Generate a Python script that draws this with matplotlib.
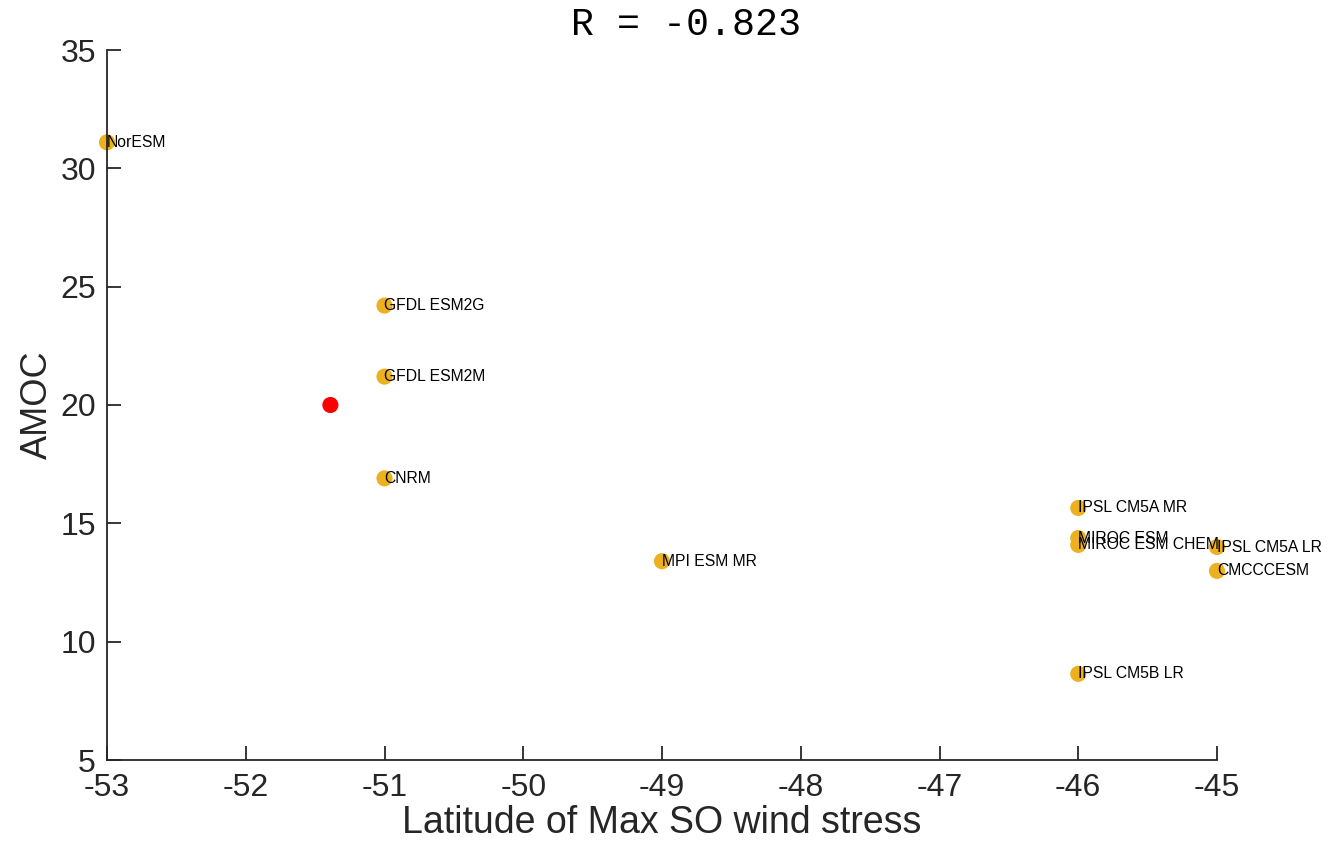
import matplotlib.pyplot as plt

plt.rcParams['axes.unicode_minus'] = False

# model results
models = ['NorESM', 'GFDL ESM2G', 'GFDL ESM2M', 'CNRM', 'MPI ESM MR',
          'IPSL CM5A MR', 'MIROC ESM', 'MIROC ESM CHEM', 'IPSL CM5A LR',
          'CMCCCESM', 'IPSL CM5B LR']
lat_max = [-53, -51, -51, -51, -49, -46, -46, -46, -45, -45, -46]
amoc = [31.1, 24.2, 21.2, 16.9, 13.4, 15.65, 14.38, 14.09, 14.0, 12.99, 8.64]

# observation estimate
obs_lat = [-51.39]
obs_amoc = [20.0]

ink = '#262626'
sans = 'Liberation Sans'

fig = plt.figure(figsize=(13.28, 8.43), dpi=100)
ax = fig.add_axes([107/1328, 1 - 760/843, 1110/1328, 710/843])

ax.scatter(lat_max, amoc, s=135, color='#EDB120', edgecolors='none',
           zorder=2, clip_on=False)
ax.scatter(obs_lat, obs_amoc, s=135, color='#FF0000', edgecolors='none',
           zorder=2, clip_on=False)
for name, x, y in zip(models, lat_max, amoc):
    ax.text(x, y, name, fontsize=11.3, family=sans,
            ha='left', va='center', color='black', zorder=3)

ax.set_xlim(-53, -45)
ax.set_ylim(5, 35)
ax.set_xticks(range(-53, -44))
ax.set_yticks(range(5, 36, 5))
ax.spines['top'].set_visible(False)
ax.spines['right'].set_visible(False)
for s in ['left', 'bottom']:
    ax.spines[s].set_color(ink)
    ax.spines[s].set_linewidth(1.3)
ax.tick_params(direction='in', length=10, width=1.3, colors=ink,
               labelsize=23)
ax.tick_params(axis='x', pad=9)
ax.tick_params(axis='y', pad=8)
for lab in ax.get_xticklabels() + ax.get_yticklabels():
    lab.set_family(sans)

ax.set_xlabel('Latitude of Max SO wind stress', fontsize=27,
              family=sans, color=ink, labelpad=2)
ax.set_ylabel('AMOC', fontsize=26, family=sans, color=ink, labelpad=4)
ax.set_title('R = -0.823', fontsize=27.5, family='Liberation Mono',
             color='black', pad=11, x=0.5216)

fig.savefig('out.png', dpi=100)
